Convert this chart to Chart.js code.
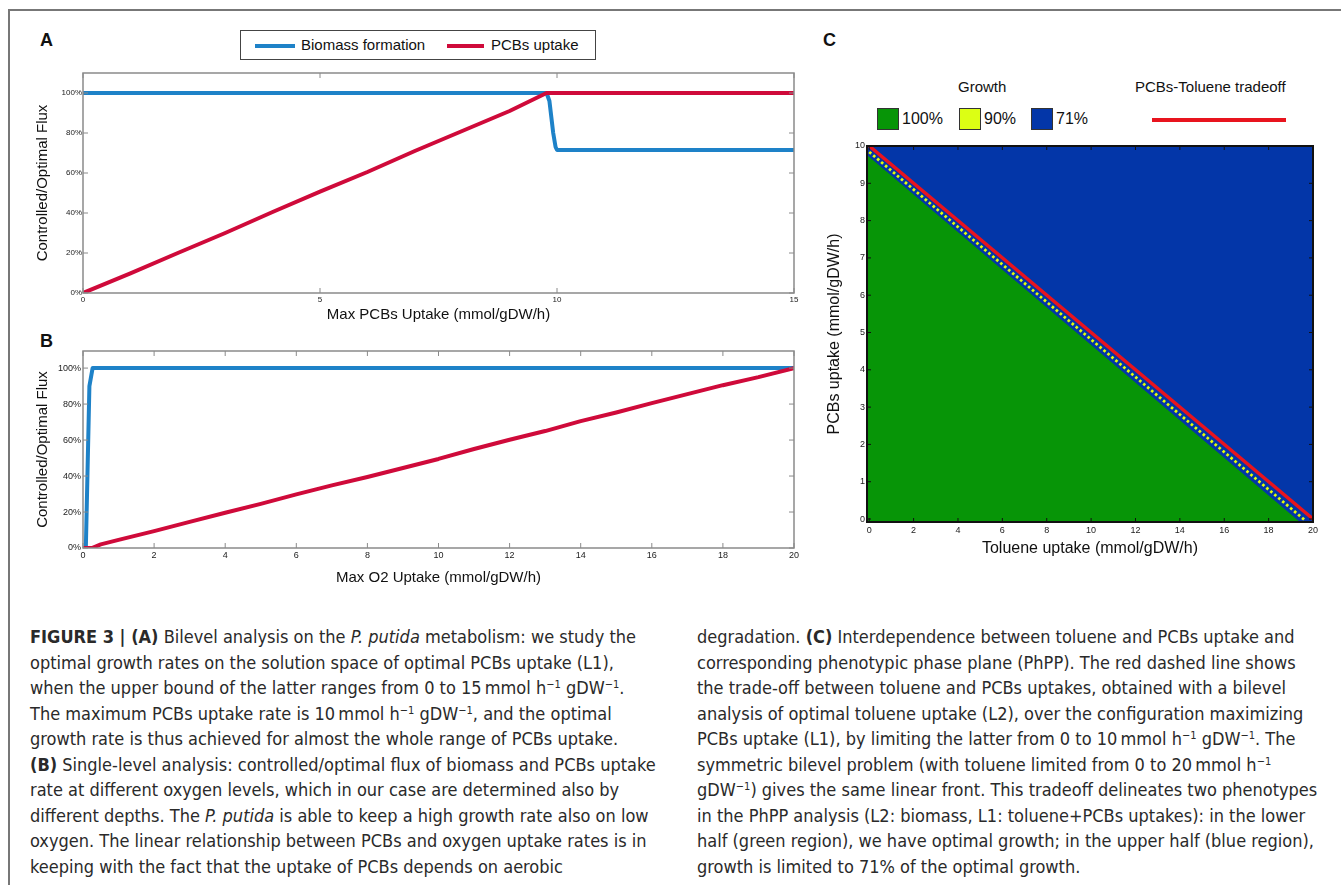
<!DOCTYPE html>
<html>
<head>
<meta charset="utf-8">
<script src="https://cdn.jsdelivr.net/npm/chart.js@4.4.1/dist/chart.umd.min.js"></script>
<style>
  html, body { margin: 0; padding: 0; background: #fff; }
  body { width: 1341px; height: 885px; position: relative; overflow: hidden; font-family: "Liberation Sans", Arial, sans-serif; color: #111; }
  .frame-top { position: absolute; left: 8px; top: 9px; width: 1333px; height: 2px; background: #777; }
  .frame-left { position: absolute; left: 8px; top: 9px; width: 2px; height: 876px; background: #777; }
  canvas { position: absolute; }
  .letter { position: absolute; font-weight: bold; font-size: 18px; }
  .legA { position: absolute; left: 240px; top: 30px; width: 354px; height: 28px; border: 1px solid #444; background: #fff; font-size: 15px; }
  .legA .ln { position: absolute; top: 13px; height: 4px; }
  .legA .tx { position: absolute; top: 5px; }
  .legC { position: absolute; font-size: 15px; }
  .sq { position: absolute; width: 20px; height: 20px; border: 1px solid #333; }
  .caption { position: absolute; font-family: "Liberation Sans Narrow", "DejaVu Sans Condensed", "Liberation Sans", sans-serif; font-size: 18px; color: #2a2a2a; line-height: 25.5px; white-space: nowrap; }
  .caption div { height: 25.5px; }
  sup { font-size: 11px; line-height: 0; vertical-align: 6px; }
</style>
</head>
<body>
<div class="frame-top"></div>
<div class="frame-left"></div>

<div class="letter" style="left:40px; top:30px;">A</div>
<div class="letter" style="left:40px; top:331px;">B</div>
<div class="letter" style="left:823px; top:30px;">C</div>

<div class="legA">
  <div class="ln" style="left:14px; width:40px; background:#1e82c8;"></div>
  <div class="tx" style="left:60px;">Biomass formation</div>
  <div class="ln" style="left:206px; width:37px; background:#cf0a3a;"></div>
  <div class="tx" style="left:250px;">PCBs uptake</div>
</div>

<div class="legC" style="left:958px; top:78px;">Growth</div>
<div class="legC" style="left:1135px; top:78px;">PCBs-Toluene tradeoff</div>
<div class="sq" style="left:877px; top:108px; background:#079507;"></div>
<div class="legC" style="left:902px; top:110px; font-size:16px;">100%</div>
<div class="sq" style="left:959px; top:108px; background:#dcff14;"></div>
<div class="legC" style="left:984px; top:110px; font-size:16px;">90%</div>
<div class="sq" style="left:1031px; top:108px; background:#0336a8;"></div>
<div class="legC" style="left:1056px; top:110px; font-size:16px;">71%</div>
<div style="position:absolute; left:1152px; top:118px; width:134px; height:4px; background:#e8141e;"></div>

<canvas id="chartA" width="780" height="265" style="left:30px; top:63px;"></canvas>
<canvas id="chartB" width="780" height="250" style="left:30px; top:341px;"></canvas>
<canvas id="chartC" width="510" height="425" style="left:820px; top:136px;"></canvas>

<div class="caption" style="left:30px; top:624px;">
  <div><b>FIGURE 3 | (A)</b> Bilevel analysis on the <i>P. putida</i> metabolism: we study the</div>
  <div>optimal growth rates on the solution space of optimal PCBs uptake (L1),</div>
  <div>when the upper bound of the latter ranges from 0 to 15&#8201;mmol h<sup>&minus;1</sup> gDW<sup>&minus;1</sup>.</div>
  <div>The maximum PCBs uptake rate is 10&#8201;mmol h<sup>&minus;1</sup> gDW<sup>&minus;1</sup>, and the optimal</div>
  <div>growth rate is thus achieved for almost the whole range of PCBs uptake.</div>
  <div><b>(B)</b> Single-level analysis: controlled/optimal flux of biomass and PCBs uptake</div>
  <div>rate at different oxygen levels, which in our case are determined also by</div>
  <div>different depths. The <i>P. putida</i> is able to keep a high growth rate also on low</div>
  <div>oxygen. The linear relationship between PCBs and oxygen uptake rates is in</div>
  <div>keeping with the fact that the uptake of PCBs depends on aerobic</div>
</div>
<div class="caption" style="left:697px; top:624px;">
  <div>degradation. <b>(C)</b> Interdependence between toluene and PCBs uptake and</div>
  <div>corresponding phenotypic phase plane (PhPP). The red dashed line shows</div>
  <div>the trade-off between toluene and PCBs uptakes, obtained with a bilevel</div>
  <div>analysis of optimal toluene uptake (L2), over the configuration maximizing</div>
  <div>PCBs uptake (L1), by limiting the latter from 0 to 10&#8201;mmol h<sup>&minus;1</sup> gDW<sup>&minus;1</sup>. The</div>
  <div>symmetric bilevel problem (with toluene limited from 0 to 20&#8201;mmol h<sup>&minus;1</sup></div>
  <div>gDW<sup>&minus;1</sup>) gives the same linear front. This tradeoff delineates two phenotypes</div>
  <div>in the PhPP analysis (L2: biomass, L1: toluene+PCBs uptakes): in the lower</div>
  <div>half (green region), we have optimal growth; in the upper half (blue region),</div>
  <div>growth is limited to 71% of the optimal growth.</div>
</div>

<script>
// ---- Panel A: bilevel, max PCBs uptake 0..15
const biomassA_x = [0, 9.78, 9.84, 9.88, 9.92, 9.97, 10.0, 15];
const biomassA_y = [100, 100, 96, 88, 80, 73, 71.5, 71.5];
const pcbsA_x = [0, 1, 2, 3, 4, 5, 6, 7, 8, 9, 9.78, 9.88, 15];
const pcbsA_y = [0, 9.8, 20, 30, 40.5, 50.7, 60.5, 71, 81, 91, 100, 100, 100];

// ---- Panel B: single level, max O2 uptake 0..20
const biomassB_x = [0.08, 0.18, 0.27, 20];
const biomassB_y = [0, 90, 100, 100];
const pcbsB_x = [0, 0.25, 0.5, 1, 2, 3, 4, 5, 6, 7, 8, 9, 10, 11, 12, 13, 14, 15, 16, 17, 18, 19, 20];
const pcbsB_y = [0, 0, 2, 4.5, 9.4, 14.5, 19.6, 24.5, 29.8, 34.8, 39.5, 44.5, 49.5, 55, 60.2, 65, 70.5, 75.3, 80.5, 85.5, 90.5, 95, 100];

// ---- Panel C: phenotypic phase plane, toluene (x) vs PCBs (y)
const region71_x = [-0.1, 20];
const region71_y = [10, 10];
const region100_x = [-0.1, 19.45];
const region100_y = [9.76, -0.1];
const region90_x = [0, 19.65];
const region90_y = [9.84, -0.04];
const tradeoff_x = [0, 20];
const tradeoff_y = [10, 0];

const BLUE = '#1e82c8', RED = '#cf0a3a';
const pts = (xs, ys) => xs.map((x, i) => ({x: x, y: ys[i]}));

// frame + inward tick marks on all four sides (matlab style box)
const boxTicks = {
    id: 'boxTicks',
    afterDatasetsDraw(chart, args, opts) {
        const {ctx, chartArea: a, scales: {x, y}} = chart;
        ctx.save();
        ctx.strokeStyle = opts.color;
        ctx.lineWidth = opts.width;
        ctx.beginPath();
        x.ticks.forEach(t => {
            const px = x.getPixelForValue(t.value);
            ctx.moveTo(px, a.bottom); ctx.lineTo(px, a.bottom - opts.len);
            ctx.moveTo(px, a.top); ctx.lineTo(px, a.top + opts.len);
        });
        y.ticks.forEach(t => {
            const py = y.getPixelForValue(t.value);
            ctx.moveTo(a.left, py); ctx.lineTo(a.left + opts.len, py);
            ctx.moveTo(a.right, py); ctx.lineTo(a.right - opts.len, py);
        });
        ctx.stroke();
        ctx.lineWidth = opts.frame;
        ctx.strokeRect(a.left, a.top, a.right - a.left, a.bottom - a.top);
        ctx.restore();
    }
};

function lineSet(label, data, color) {
    return { label: label, data: data, borderColor: color, borderWidth: 4, pointRadius: 0,
             tension: 0, fill: false, borderJoinStyle: 'round', borderCapStyle: 'round' };
}

function axisOpts(o) {
    return {
        type: 'linear', min: o.min, max: o.max,
        grid: { display: false, drawTicks: false },
        border: { display: false },
        ticks: { stepSize: o.step, includeBounds: false, autoSkip: false, maxRotation: 0,
                 padding: o.pad, color: '#222', font: { family: 'Liberation Sans', size: o.tick },
                 callback: o.cb || (v => v) },
        title: { display: true, text: o.title, color: '#111', padding: o.tpad,
                 font: { family: 'Liberation Sans', size: o.tsize } },
        afterFit: s => { if (o.w) s.width = o.w; if (o.h) s.height = o.h; }
    };
}

Chart.defaults.animation = false;

new Chart(document.getElementById('chartA'), {
    type: 'line',
    data: { datasets: [
        lineSet('PCBs uptake', pts(pcbsA_x, pcbsA_y), RED),
        lineSet('Biomass formation', pts(biomassA_x, biomassA_y), BLUE)
    ]},
    options: {
        responsive: false, devicePixelRatio: 1,
        layout: { padding: { top: 10, right: 16, left: 0, bottom: 0 } },
        plugins: { legend: { display: false }, tooltip: { enabled: false },
                   boxTicks: { color: '#8a8a8a', width: 1, frame: 1.5, len: 5 } },
        scales: {
            x: axisOpts({ min: 0, max: 15, step: 5, pad: 2, tick: 8, title: 'Max PCBs Uptake (mmol/gDW/h)',
                          tsize: 15, tpad: { top: 0, bottom: 4 }, h: 35 }),
            y: axisOpts({ min: 0, max: 110, step: 20, pad: 1, tick: 8, cb: v => v + '%',
                          title: 'Controlled/Optimal Flux', tsize: 15, tpad: { top: 4, bottom: 0 }, w: 53 })
        }
    },
    plugins: [boxTicks]
});

new Chart(document.getElementById('chartB'), {
    type: 'line',
    data: { datasets: [
        lineSet('PCBs uptake', pts(pcbsB_x, pcbsB_y), RED),
        lineSet('Biomass formation', pts(biomassB_x, biomassB_y), BLUE)
    ]},
    options: {
        responsive: false, devicePixelRatio: 1,
        layout: { padding: { top: 10, right: 16, left: 0, bottom: 0 } },
        plugins: { legend: { display: false }, tooltip: { enabled: false },
                   boxTicks: { color: '#8a8a8a', width: 1, frame: 1.5, len: 5 } },
        scales: {
            x: axisOpts({ min: 0, max: 20, step: 2, pad: 2, tick: 9, title: 'Max O2 Uptake (mmol/gDW/h)',
                          tsize: 15, tpad: { top: 0, bottom: 4 }, h: 43 }),
            y: axisOpts({ min: 0, max: 109.5, step: 20, pad: 2, tick: 9, cb: v => v + '%',
                          title: 'Controlled/Optimal Flux', tsize: 15, tpad: { top: 4, bottom: 0 }, w: 53 })
        }
    },
    plugins: [boxTicks]
});

new Chart(document.getElementById('chartC'), {
    type: 'line',
    data: { datasets: [
        { label: 'PCBs-Toluene tradeoff', data: pts(tradeoff_x, tradeoff_y), borderColor: '#e8141e',
          borderWidth: 3.5, pointRadius: 0, fill: false },
        { label: '90%', data: pts(region90_x, region90_y), borderColor: '#e2ff0a', borderWidth: 2.8,
          borderDash: [2.6, 2.6], pointRadius: 0, fill: false },
        { label: '100%', data: pts(region100_x, region100_y), borderWidth: 0, pointRadius: 0,
          fill: 'start', backgroundColor: '#079507' },
        { label: '71%', data: pts(region71_x, region71_y), borderWidth: 0, pointRadius: 0,
          fill: 'start', backgroundColor: '#0336a8' }
    ]},
    options: {
        responsive: false, devicePixelRatio: 1,
        layout: { padding: { top: 10, right: 17, left: 0, bottom: 0 } },
        plugins: { legend: { display: false }, tooltip: { enabled: false },
                   boxTicks: { color: '#111', width: 1, frame: 2, len: 4 } },
        scales: {
            x: axisOpts({ min: -0.1, max: 20, step: 2, pad: 3, tick: 9, title: 'Toluene uptake (mmol/gDW/h)',
                          tsize: 16, tpad: { top: 0, bottom: 3 }, h: 39 }),
            y: axisOpts({ min: -0.08, max: 10, step: 1, pad: 2, tick: 9,
                          title: 'PCBs uptake (mmol/gDW/h)', tsize: 16, tpad: { top: 5, bottom: 0 }, w: 47 })
        }
    },
    plugins: [boxTicks]
});
</script>
</body>
</html>
